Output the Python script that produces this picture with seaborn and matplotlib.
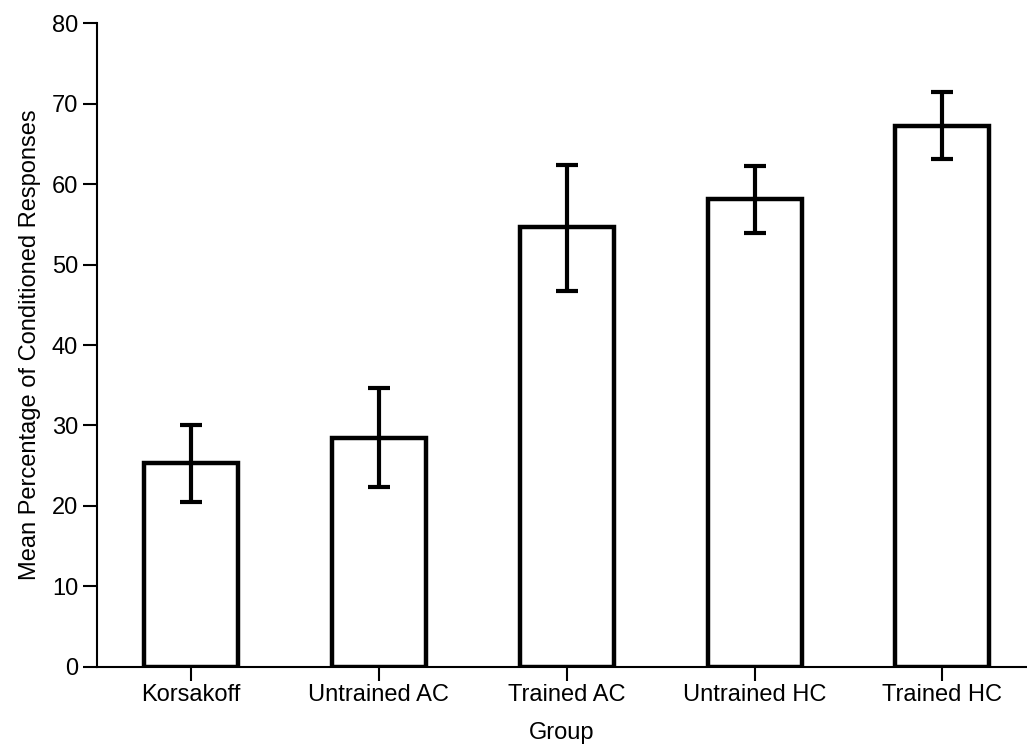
import pandas as pd
import seaborn as sns
import numpy as np
import matplotlib.pyplot as plt

groups = ["Korsakoff", "Untrained AC", "Trained AC", "Untrained HC", "Trained HC"]
means = [25.3, 28.4, 54.7, 58.1, 67.2]
err_low = [20.5, 22.4, 46.7, 53.9, 63.1]
err_high = [30.1, 34.6, 62.4, 62.2, 71.5]

df = pd.DataFrame({"Group": groups, "Mean": means})

sns.set_style("ticks")
plt.rcParams['font.family'] = ['Liberation Sans', 'DejaVu Sans']
plt.rcParams['text.color'] = 'black'
plt.rcParams['axes.labelcolor'] = 'black'
plt.rcParams['xtick.color'] = 'black'
plt.rcParams['ytick.color'] = 'black'

fig = plt.figure(figsize=(10.27, 7.46), dpi=100)
ax = fig.add_axes([0.0944, 0.106, 0.9056, 0.863])

sns.barplot(data=df, x="Group", y="Mean", color="white", edgecolor="black",
            linewidth=3.2, width=0.5, errorbar=None, ax=ax)

x = np.arange(len(groups))
lo = np.array(means) - np.array(err_low)
hi = np.array(err_high) - np.array(means)
ax.errorbar(x, means, yerr=[lo, hi], fmt="none", ecolor="black",
            elinewidth=3, capsize=8, capthick=3, zorder=5)

ax.set_ylim(0, 80)
ax.set_xlim(-0.5, 4.45)
ax.set_yticks(range(0, 81, 10))
ax.set_xlabel("Group", fontsize=17, labelpad=12)
ax.set_ylabel("Mean Percentage of Conditioned Responses", fontsize=17, labelpad=8)
ax.tick_params(axis="both", labelsize=17, length=10, width=1.5, color="black",
               labelcolor="black")
ax.tick_params(axis="x", pad=2)
for s in ["top", "right"]:
    ax.spines[s].set_visible(False)
for s in ["left", "bottom"]:
    ax.spines[s].set_linewidth(1.5)
    ax.spines[s].set_color("black")

fig.savefig("out.png", dpi=100)
